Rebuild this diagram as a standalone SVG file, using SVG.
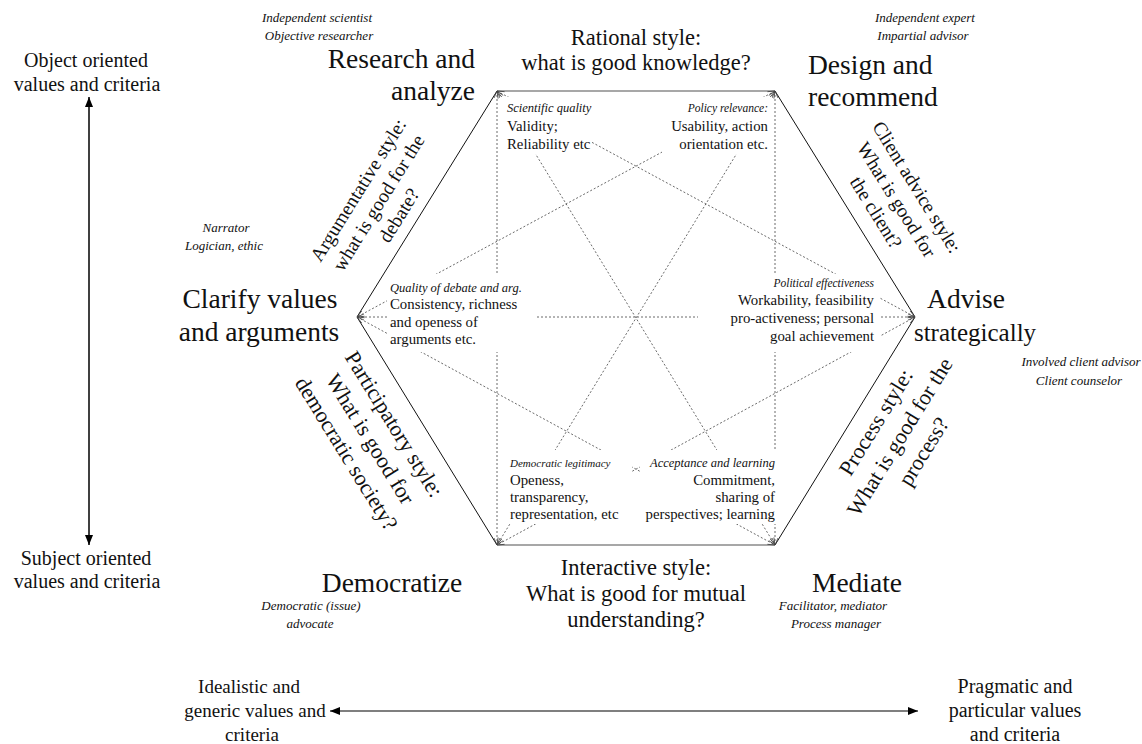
<svg xmlns="http://www.w3.org/2000/svg" width="1142" height="744" viewBox="0 0 1142 744">
  <defs>
    <marker id="tip" markerUnits="userSpaceOnUse" markerWidth="8" markerHeight="8" viewBox="0 0 8 8" refX="8" refY="4" orient="auto-start-reverse">
      <path d="M1,1 L8,4 L1,7" fill="none" stroke="#444" stroke-width="0.8"/>
    </marker>
    <marker id="solidTip" markerUnits="userSpaceOnUse" markerWidth="10" markerHeight="10" viewBox="0 0 10 10" refX="10" refY="5" orient="auto-start-reverse">
      <path d="M0,1 L10,5 L0,9 Z" fill="#000"/>
    </marker>
  </defs>
  <style>
    text { font-family: "Liberation Serif", "Times New Roman", serif; fill: #111; }
    .style { font-size: 22.5px; text-anchor: middle; }
    .vertex { font-size: 27.5px; }
    .role { font-size: 13px; font-style: italic; text-anchor: middle; }
    .axis { font-size: 20px; text-anchor: middle; }
    .axisb { font-size: 19px; text-anchor: middle; }
    .crit { font-size: 14.8px; }
    .critHead { font-size: 12.5px; font-style: italic; }
    .side { font-size: 19.5px; text-anchor: middle; }
    .sideL { font-size: 22px; text-anchor: middle; }
    .dotted { stroke: #444; stroke-width: 0.8; stroke-dasharray: 2 2; fill: none; marker-start: url(#tip); marker-end: url(#tip); }
    .mask { fill: #fff; }
  </style>
  <rect width="1142" height="744" fill="#fff"/>

  <!-- hexagon outline -->
  <g id="hexagon" fill="none">
    <polyline points="775,91 915,317 775,545" stroke="#111" stroke-width="1"/>
    <polyline points="497,91 357,317 497,545" stroke="#111" stroke-width="1"/>
    <line x1="497" y1="91" x2="775" y2="91" stroke="#8a8a8a" stroke-width="1.5"/>
    <line x1="497" y1="545" x2="775" y2="545" stroke="#8a8a8a" stroke-width="1.5"/>
  </g>

  <!-- dotted links between non-adjacent corners -->
  <g id="connectors">
    <line class="dotted" x1="497" y1="91" x2="915" y2="317"/>
    <line class="dotted" x1="497" y1="91" x2="775" y2="545"/>
    <line class="dotted" x1="497" y1="91" x2="497" y2="545"/>
    <line class="dotted" x1="775" y1="91" x2="775" y2="545"/>
    <line class="dotted" x1="775" y1="91" x2="497" y2="545"/>
    <line class="dotted" x1="775" y1="91" x2="357" y2="317"/>
    <line class="dotted" x1="915" y1="317" x2="497" y2="545"/>
    <line class="dotted" x1="357" y1="317" x2="915" y2="317"/>
    <line class="dotted" x1="357" y1="317" x2="775" y2="545"/>
  </g>

  <!-- criteria boxes -->
  <g id="scientific-quality">
    <rect class="mask" x="500" y="97" width="92" height="57"/>
    <text class="critHead" x="507" y="112">Scientific quality</text>
    <text class="crit" x="507" y="131">Validity;</text>
    <text class="crit" x="507" y="149">Reliability etc</text>
  </g>
  <g id="policy-relevance">
    <rect class="mask" x="662" y="97" width="110" height="57"/>
    <text class="critHead" x="768" y="112" text-anchor="end" style="font-size:11.5px">Policy relevance:</text>
    <text class="crit" x="768" y="131" text-anchor="end">Usability, action</text>
    <text class="crit" x="768" y="149" text-anchor="end">orientation etc.</text>
  </g>
  <g id="quality-of-debate">
    <rect class="mask" x="387" y="274" width="148" height="78"/>
    <text class="critHead" x="390" y="292">Quality of debate and arg.</text>
    <text class="crit" x="390" y="309">Consistency, richness</text>
    <text class="crit" x="390" y="327">and openess of</text>
    <text class="crit" x="390" y="344">arguments etc.</text>
  </g>
  <g id="political-effectiveness">
    <rect class="mask" x="698" y="274" width="182" height="78"/>
    <text class="critHead" x="874" y="287" text-anchor="end" style="font-size:11.5px">Political effectiveness</text>
    <text class="crit" x="874" y="305" text-anchor="end">Workability, feasibility</text>
    <text class="crit" x="874" y="323" text-anchor="end">pro-activeness; personal</text>
    <text class="crit" x="874" y="341" text-anchor="end">goal achievement</text>
  </g>
  <g id="democratic-legitimacy">
    <rect class="mask" x="503" y="450" width="129" height="74"/>
    <text class="critHead" x="510" y="467" style="font-size:11px">Democratic legitimacy</text>
    <text class="crit" x="510" y="485">Openess,</text>
    <text class="crit" x="510" y="502">transparency,</text>
    <text class="crit" x="510" y="519">representation, etc</text>
  </g>
  <g id="acceptance-learning">
    <rect class="mask" x="640" y="450" width="138" height="74"/>
    <text class="critHead" x="775" y="467" text-anchor="end">Acceptance and learning</text>
    <text class="crit" x="775" y="485" text-anchor="end">Commitment,</text>
    <text class="crit" x="775" y="502" text-anchor="end">sharing of</text>
    <text class="crit" x="775" y="519" text-anchor="end">perspectives; learning</text>
  </g>

  <!-- corner activities with their roles -->
  <g id="research">
    <text class="role" x="317" y="22">Independent scientist</text>
    <text class="role" x="319" y="40">Objective researcher</text>
    <text class="vertex" x="475" y="68" text-anchor="end">Research and</text>
    <text class="vertex" x="475" y="100" text-anchor="end">analyze</text>
  </g>
  <g id="design">
    <text class="role" x="925" y="22">Independent expert</text>
    <text class="role" x="923" y="40">Impartial advisor</text>
    <text class="vertex" x="808" y="74">Design and</text>
    <text class="vertex" x="808" y="106">recommend</text>
  </g>
  <g id="clarify">
    <text class="role" x="226" y="232">Narrator</text>
    <text class="role" x="224" y="250">Logician, ethic</text>
    <text class="vertex" x="260" y="308" text-anchor="middle">Clarify values</text>
    <text class="vertex" x="259" y="341" text-anchor="middle">and arguments</text>
  </g>
  <g id="advise">
    <text class="vertex" x="966" y="308" text-anchor="middle">Advise</text>
    <text class="vertex" x="975" y="341" text-anchor="middle" style="font-size:25px">strategically</text>
    <text class="role" x="1081" y="366">Involved client advisor</text>
    <text class="role" x="1079" y="385">Client counselor</text>
  </g>
  <g id="democratize">
    <text class="vertex" x="392" y="592" text-anchor="middle">Democratize</text>
    <text class="role" x="311" y="610">Democratic (issue)</text>
    <text class="role" x="310" y="628">advocate</text>
  </g>
  <g id="mediate">
    <text class="vertex" x="857" y="592" text-anchor="middle">Mediate</text>
    <text class="role" x="833" y="610" text-anchor="start">Facilitator, mediator</text>
    <text class="role" x="836" y="628" text-anchor="start">Process manager</text>
  </g>

  <!-- advisory styles along the sides -->
  <g id="rational-style">
    <text class="style" x="636" y="45">Rational style:</text>
    <text class="style" x="636" y="70">what is good knowledge?</text>
  </g>
  <g id="interactive-style">
    <text class="style" x="636" y="575">Interactive style:</text>
    <text class="style" x="636" y="601">What is good for mutual</text>
    <text class="style" x="636" y="627">understanding?</text>
  </g>
  <g id="argumentative-style" transform="translate(379,203) rotate(-58.2)">
    <text class="side" x="0" y="-18">Argumentative style:</text>
    <text class="side" x="0" y="6">what is good for the</text>
    <text class="side" x="0" y="30">debate?</text>
  </g>
  <g id="client-advice-style" transform="translate(896,200) rotate(58.2)">
    <text class="side" x="0" y="-18">Client advice style:</text>
    <text class="side" x="0" y="6">What is good for</text>
    <text class="side" x="0" y="30">the client?</text>
  </g>
  <g id="participatory-style" transform="translate(370,439) rotate(58.4)">
    <text class="sideL" x="0" y="-21">Participatory style:</text>
    <text class="sideL" x="0" y="7">What is good for</text>
    <text class="sideL" x="0" y="35">democratic society?</text>
  </g>
  <g id="process-style" transform="translate(900,437) rotate(-58.4)">
    <text class="sideL" x="0" y="-21">Process style:</text>
    <text class="sideL" x="0" y="7">What is good for the</text>
    <text class="sideL" x="0" y="35">process?</text>
  </g>

  <!-- value axes -->
  <g id="object-subject-axis">
    <text class="axis" x="86" y="67">Object oriented</text>
    <text class="axis" x="87" y="91">values and criteria</text>
    <line x1="89" y1="97" x2="89" y2="545" stroke="#000" stroke-width="1.5" marker-start="url(#solidTip)" marker-end="url(#solidTip)"/>
    <text class="axis" x="86" y="565">Subject oriented</text>
    <text class="axis" x="87" y="588">values and criteria</text>
  </g>
  <g id="idealistic-pragmatic-axis">
    <text class="axisb" x="249" y="693">Idealistic and</text>
    <text class="axisb" x="255" y="717">generic values and</text>
    <text class="axisb" x="252" y="741">criteria</text>
    <line x1="330" y1="711" x2="918" y2="711" stroke="#000" stroke-width="1.2" marker-start="url(#solidTip)" marker-end="url(#solidTip)"/>
    <text class="axisb" x="1015" y="693" style="font-size:20px">Pragmatic and</text>
    <text class="axisb" x="1015" y="717" style="font-size:20px">particular values</text>
    <text class="axisb" x="1015" y="741" style="font-size:20px">and criteria</text>
  </g>
</svg>
